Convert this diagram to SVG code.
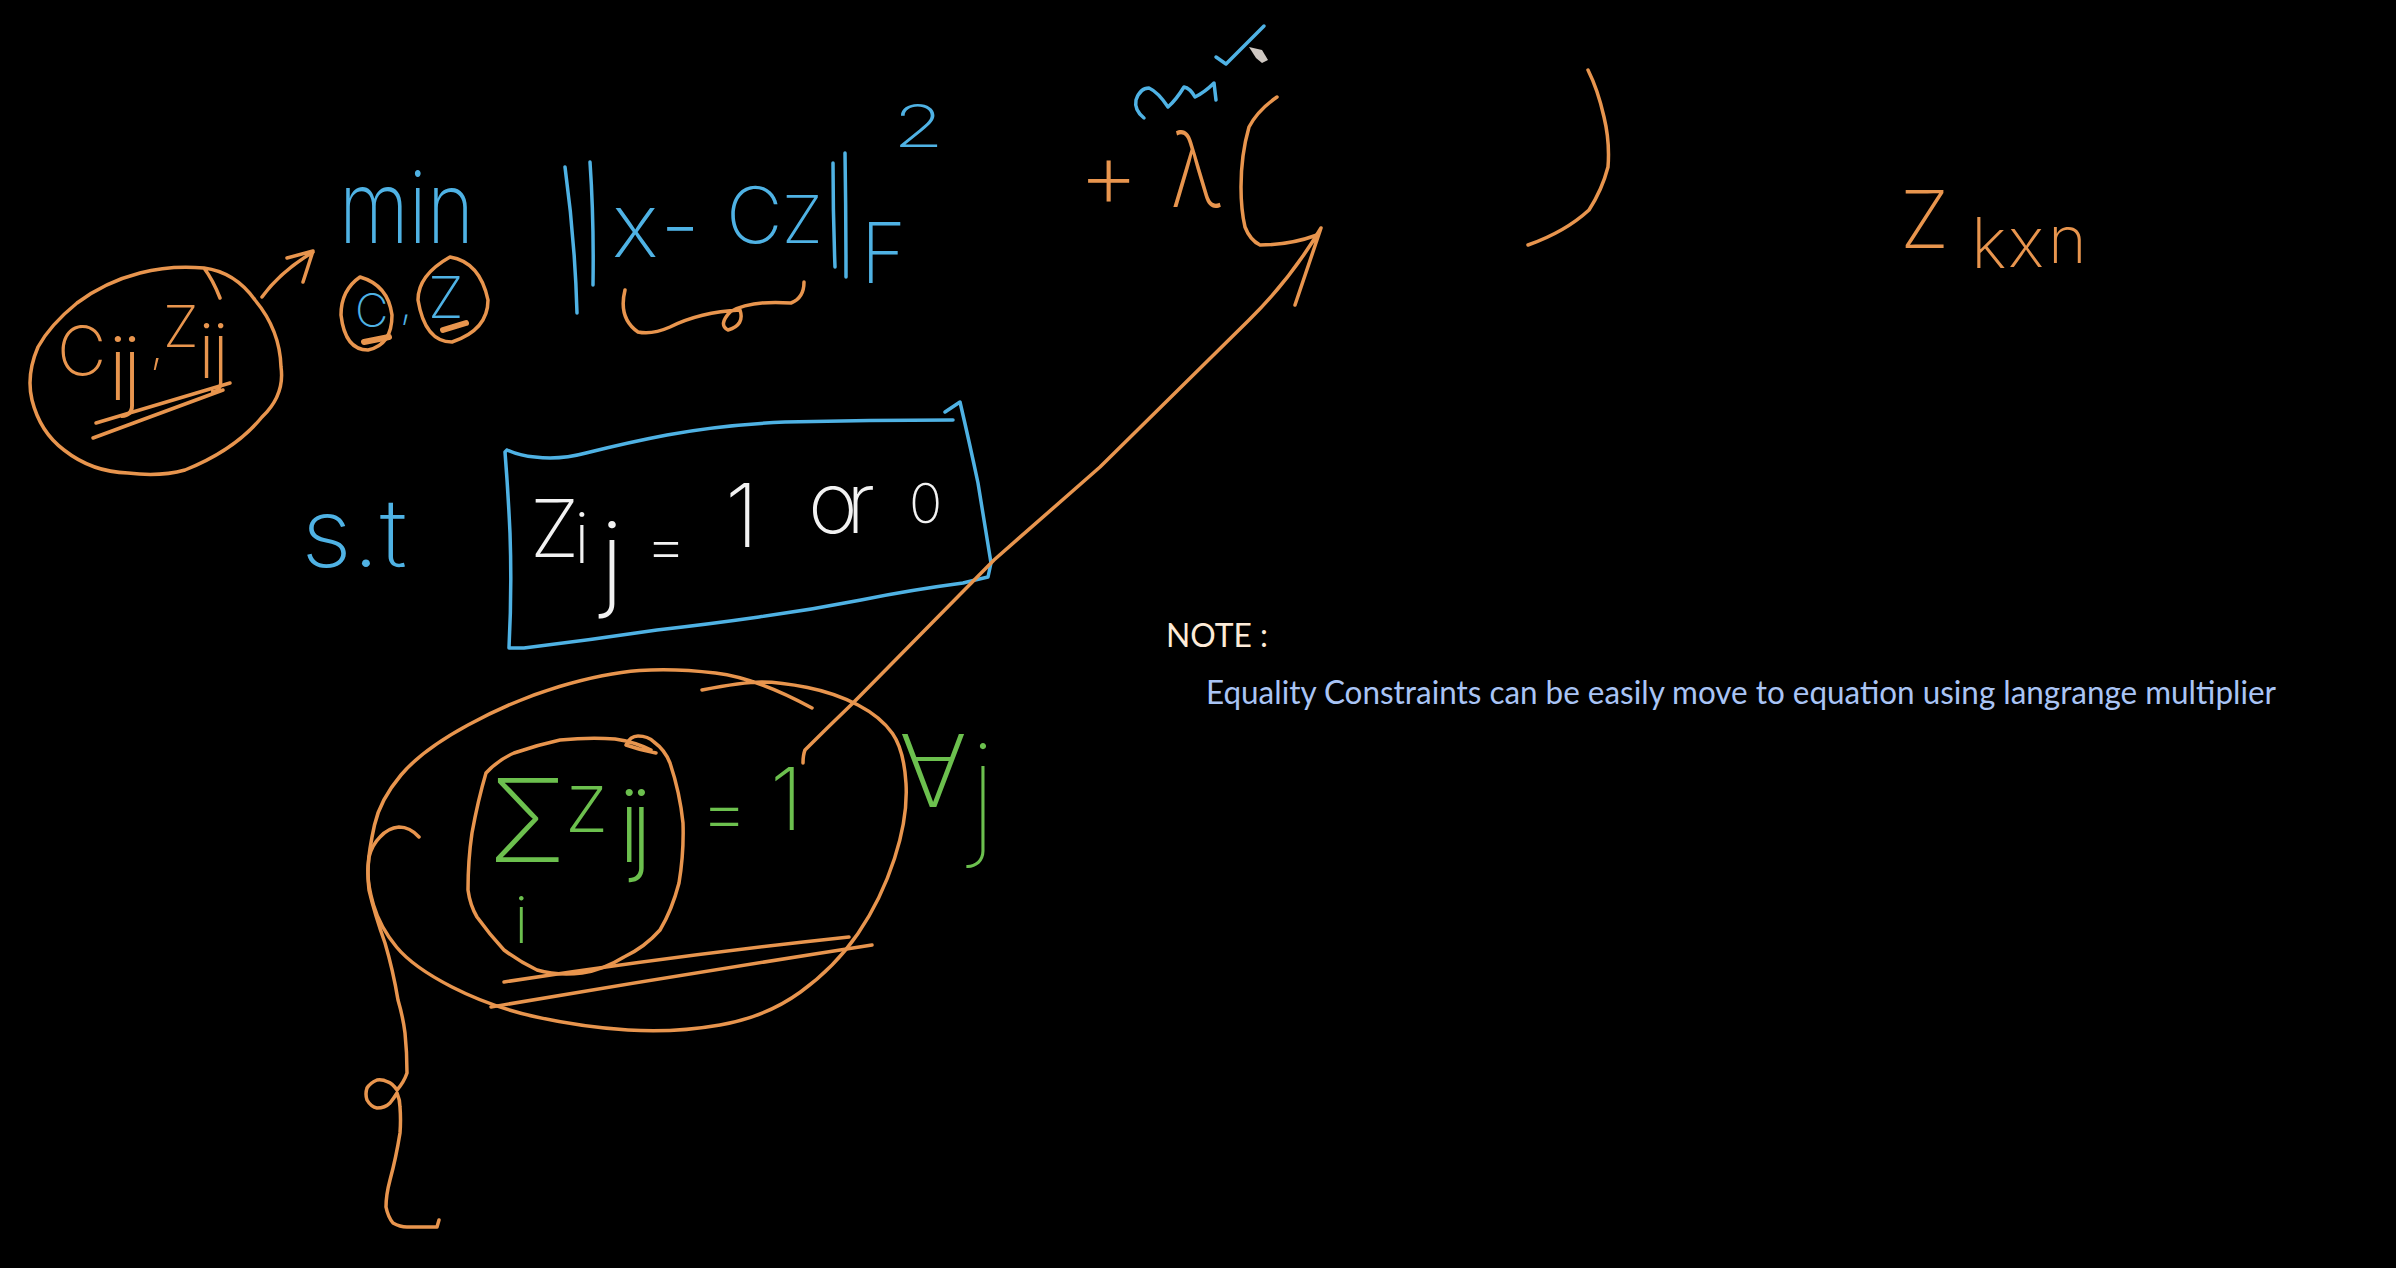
<svg xmlns="http://www.w3.org/2000/svg" width="2396" height="1268" viewBox="0 0 2396 1268">
<style>
.s{fill:none;stroke-linecap:round;stroke-linejoin:round;stroke-width:3.5}
.o{stroke:#e8954e}.b{stroke:#4fb2e4}.th{stroke-width:6}
text{font-family:"Inter","DejaVu Sans",sans-serif;font-weight:200}
.to{fill:#e8954e}.tb{fill:#4fb2e4}.tw{fill:#f2f2f2}.tg{fill:#6cc04e}
.n{font-family:"Lato","Open Sans",sans-serif;font-weight:400;font-size:33px}
</style>
<rect width="2396" height="1268" fill="#000"/>
<g id="objective">
<text class="tb" x="339" y="243" font-size="100" textLength="135" lengthAdjust="spacingAndGlyphs">min</text>
<path class="s b" d="M565 167Q575 240 577 313M590 162Q594 220 593 285M833 163Q833 215 835 267M845 153Q846 215 846 277"/>
<text class="tb"><tspan x="612 660" y="257" font-size="90">x-</tspan><tspan x="726" y="243" font-size="78">C</tspan><tspan x="782" y="243" font-size="66">Z</tspan></text>
<text class="tb" x="861" y="283" font-size="84" textLength="45" lengthAdjust="spacingAndGlyphs">F</text>
<text class="tb" x="893" y="147" font-size="58" textLength="51" lengthAdjust="spacingAndGlyphs">2</text>
<path class="s o" d="M625 290Q618 318 638 332Q652 335 670 327Q700 312 740 310Q745 325 728 330Q718 325 730 312Q750 300 791 303Q804 298 804 282"/>
</g>
<g id="variables">
<path class="s o" d="M220 298Q213 280 204 268Q170 265 140 273Q105 282 77 303Q50 325 38 347Q26 375 32 400Q40 432 64 450Q92 472 128 473Q160 477 185 470Q235 450 262 417Q285 395 281 367Q280 330 255 300Q235 272 204 268"/>
<text class="to"><tspan x="57" y="375" font-size="68">C</tspan><tspan x="108 122" y="400" font-size="88">ij</tspan><tspan x="150" y="362" font-size="50">,</tspan><tspan x="163" y="347" font-size="58">Z</tspan><tspan x="198 212" y="378" font-size="76">ij</tspan></text>
<path class="s o" d="M96 423L230 383M93 438L223 390"/>
<path class="s o" d="M360 277Q341 290 341 315Q345 350 368 350Q392 345 392 315Q388 285 360 277Z"/>
<path class="s o" d="M450 257Q418 275 418 300Q425 342 452 342Q488 330 488 300Q480 262 450 257Z"/>
<text class="tb"><tspan x="355" y="327" font-size="46">C</tspan><tspan x="400" y="318" font-size="44">,</tspan><tspan x="428" y="318" font-size="58">Z</tspan></text>
<path class="s o th" d="M364 342L389 337M443 330L466 323"/>
</g>
<g id="constraint-box">
<text class="tb" x="301" y="567" font-size="95" textLength="106" lengthAdjust="spacingAndGlyphs">s.t</text>
<path class="s b" d="M507 450Q520 456 535 457Q560 460 586 453Q630 442 667 435Q720 425 785 422Q870 420 953 420M945 412L960 402Q970 445 978 483Q985 525 991 563L988 577Q975 580 963 583Q910 590 861 600Q810 610 759 617Q710 624 657 630Q590 640 524 648L509 648Q512 590 510 533Q508 490 505 452L507 450"/>
<text class="tw"><tspan x="530" y="557" font-size="80">Z</tspan><tspan x="574" y="563" font-size="70">i</tspan><tspan x="600" y="597" font-size="105">j</tspan><tspan x="645" y="568" font-size="65">=</tspan><tspan x="725" y="547" font-size="88">1</tspan><tspan x="808 846" y="533" font-size="85">or</tspan><tspan x="909" y="523" font-size="55">0</tspan></text>
</g>
<g id="sum-constraint">
<text class="tg"><tspan x="488" y="862" font-size="115">Σ</tspan><tspan x="564" y="832" font-size="85">z</tspan><tspan x="618 630" y="862" font-size="100">ij</tspan><tspan x="700" y="838" font-size="75">=</tspan><tspan x="770" y="830" font-size="86">1</tspan></text>
<text class="tg" x="514" y="943" font-size="65">i</text>
<text class="tg"><tspan x="899" y="807" font-size="100">∀</tspan><tspan x="968" y="840" font-size="135" font-weight="100">j</tspan></text>
<path class="s o" d="M812 708Q757 678 715.5 673Q674 668 639.5 670.5Q605 673 559.5 686.5Q514 700 468 725Q422 750 401 775Q380 800 374.5 825Q369 850 368 866.5Q367 883 373.5 905Q380 927 396.5 947Q413 967 452 987Q491 1007 536.5 1017Q582 1027 628 1030Q674 1033 720 1025Q766 1017 800.5 992Q835 967 858 933.5Q881 900 894.5 858.5Q908 817 906 783.5Q904 750 892.5 733.5Q881 717 858 705Q835 693 807.5 687.5Q780 682 761.5 682Q743 682 702 690"/>
<path class="s o" d="M656 753Q640 750 626 745Q630 736 638 736Q648 736 654 742Q665 750 670 763Q680 793 683 823Q684 853 679 883Q672 910 660 930Q645 947 624 957Q603 970 582 973Q558 976 537 970Q520 962 504 950Q490 935 477 917Q470 905 468 890Q468 860 472 833Q478 800 486 773Q498 760 514 753Q537 745 560 740Q590 737 615 739Q635 742 651 750"/>
<path class="s o" d="M504 982Q680 955 849 937M491 1007Q680 975 872 945"/>
</g>
<g id="tail">
<path class="s o" d="M419 837Q410 827 399 827Q388 828 380 837Q372 845 369 857Q367 873 369 890Q375 915 385 943Q393 970 398 1000Q403 1017 405 1033Q407 1052 407 1073Q404 1082 397 1090Q392 1083 388 1082Q382 1079 377 1080Q370 1083 367 1088Q365 1094 367 1100Q371 1107 377 1108Q385 1108 390 1103Q394 1098 397 1093Q400 1100 400 1107Q401 1120 400 1133Q396 1158 390 1180Q386 1195 386 1207Q388 1217 393 1223Q400 1227 407 1227L437 1227L439 1220"/>
</g>
<g id="lambda-term">
<text class="to" x="1078" y="208" font-size="95">+</text>
<text class="to" x="1170" y="207" font-size="105" textLength="52" lengthAdjust="spacingAndGlyphs">λ</text>
<path class="s b" d="M1144 118Q1134 110 1136 100Q1140 88 1149 88Q1158 92 1168 107Q1176 100 1184 87Q1190 88 1195 97Q1205 92 1214 83L1216 100M1216 57L1226 64L1264 26"/>
<path fill="#cfc8c2" d="M1249 47L1262 50L1268 60L1262 63L1256 58Z"/>
<path class="s o" d="M1277 97Q1258 110 1249 127Q1241 155 1241 187Q1241 210 1245 227Q1250 240 1260 245Q1290 245 1317 235M1588 70Q1598 90 1604 117Q1610 142 1608 167Q1602 190 1589 210Q1565 232 1528 245"/>
</g>
<g id="connectors">
<path class="s o" d="M262 297Q280 272 313 252M287 258L313 251L303 282"/>
<path class="s o" d="M803 763Q803 755 805 750Q828 727 853 703L994 560Q1045 515 1100 467L1249 320Q1290 280 1321 228M1321 228L1295 305"/>
</g>
<g id="dimension">
<text class="to"><tspan x="1900" y="248" font-size="80">Z</tspan><tspan x="1971" y="268" font-size="70">k</tspan><tspan x="2008" y="267" font-size="70">x</tspan><tspan x="2048" y="263" font-size="66">n</tspan></text>
</g>
<g id="note">
<text class="n" x="1166" y="647" fill="#fdebd8" textLength="102" lengthAdjust="spacingAndGlyphs">NOTE :</text>
<text class="n" x="1206" y="704" fill="#a9c4f5" textLength="1070" lengthAdjust="spacingAndGlyphs">Equality Constraints can be easily move to equation using langrange multiplier</text>
</g>
</svg>
